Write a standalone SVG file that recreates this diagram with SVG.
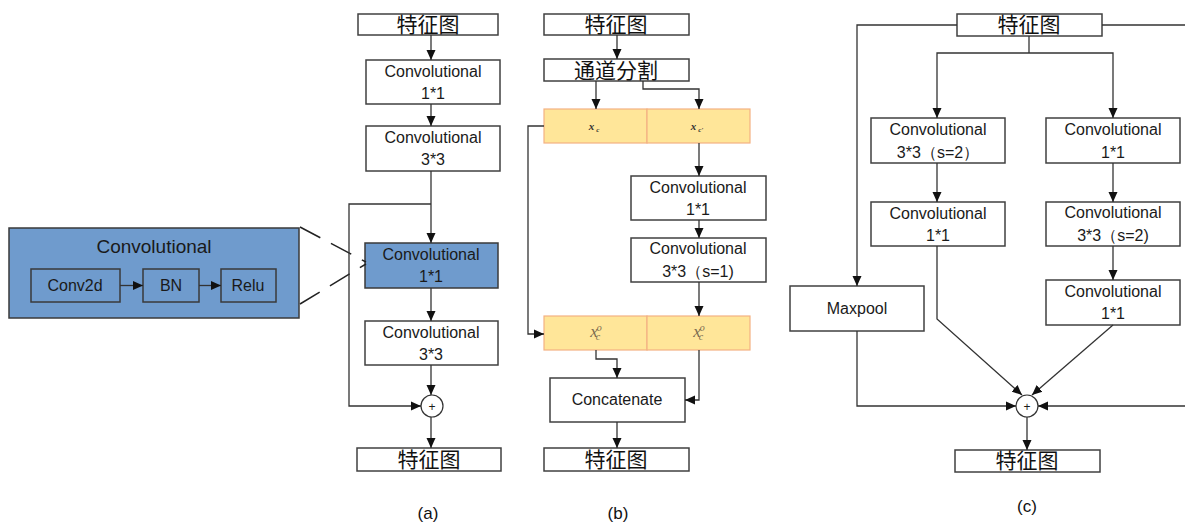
<svg xmlns="http://www.w3.org/2000/svg" width="1185" height="522" viewBox="0 0 1185 522">
<defs>
<marker id="ah" markerUnits="userSpaceOnUse" markerWidth="10" markerHeight="10" refX="10" refY="5" orient="auto">
<path d="M0,0.5 L10,5 L0,9.5 z" fill="#111"/>
</marker>
<style>
.box{fill:#fff;stroke:#404040;stroke-width:1.5}
.blue{fill:#6f9bcd;stroke:#3a3a3a;stroke-width:1.5}
.yel{fill:#ffe699;stroke:#f4b183;stroke-width:1.2}
.t{font-family:"Liberation Sans",Arial,sans-serif;font-size:16px;fill:#1a1a1a;text-anchor:middle}
.cn{font-family:"Noto Sans CJK SC",sans-serif;font-size:21px;fill:#111;text-anchor:middle}
.ln{fill:none;stroke:#333;stroke-width:1.3}
.ar{fill:none;stroke:#333;stroke-width:1.3;marker-end:url(#ah)}
.cap{font-family:"Liberation Sans",Arial,sans-serif;font-size:17px;fill:#111;text-anchor:middle}
.xs{font-family:"Liberation Serif",serif;font-style:italic;font-weight:bold;fill:#333;text-anchor:middle}
.xo{font-family:"Liberation Serif",serif;font-style:italic;fill:#7a6a50;text-anchor:middle}
</style>
</defs>
<rect width="1185" height="522" fill="#fff"/>

<!-- Left detail -->
<g id="conv-detail">
<rect class="blue" x="9" y="228" width="290" height="90"/>
<text class="t" x="154" y="253" style="font-size:19px">Convolutional</text>
<rect class="blue" x="31" y="269" width="89" height="33"/>
<text class="t" x="75" y="291">Conv2d</text>
<rect class="blue" x="143" y="269" width="56" height="33"/>
<text class="t" x="171" y="291">BN</text>
<rect class="blue" x="221" y="269" width="55" height="33"/>
<text class="t" x="248" y="291">Relu</text>
</g>

<!-- (a) nodes -->
<g id="a-in"><rect class="box" x="358" y="14" width="140" height="21"/><text class="cn" x="428" y="32">特征图</text></g>
<g id="a-c1"><rect class="box" x="366" y="60" width="134" height="44"/><text class="t" x="433" y="77">Convolutional</text><text class="t" x="433" y="99">1*1</text></g>
<g id="a-c2"><rect class="box" x="366" y="126" width="134" height="45"/><text class="t" x="433" y="143">Convolutional</text><text class="t" x="433" y="165">3*3</text></g>
<g id="a-c3"><rect class="blue" x="365" y="243" width="133" height="45"/><text class="t" x="431" y="260">Convolutional</text><text class="t" x="431" y="282">1*1</text></g>
<g id="a-c4"><rect class="box" x="365" y="321" width="133" height="44"/><text class="t" x="431" y="338">Convolutional</text><text class="t" x="431" y="360">3*3</text></g>
<g id="a-add"><circle cx="432" cy="406" r="11" fill="#fff" stroke="#333" stroke-width="1.2"/><text class="t" x="432" y="411" style="font-size:12px">+</text></g>
<g id="a-out"><rect class="box" x="357" y="448" width="144" height="23"/><text class="cn" x="429" y="467">特征图</text></g>

<!-- (b) nodes -->
<g id="b-in"><rect class="box" x="544" y="14" width="145" height="21"/><text class="cn" x="616" y="32">特征图</text></g>
<g id="b-split"><rect class="box" x="544" y="59" width="145" height="22"/><text class="cn" x="616" y="78">通道分割</text></g>
<g id="b-x1"><rect class="yel" x="544" y="109" width="103" height="34"/><text class="xs" x="594" y="130" style="font-size:11px">x<tspan dx="2" dy="2" font-size="7">c</tspan></text></g>
<g id="b-x2"><rect class="yel" x="647" y="109" width="103" height="34"/><text class="xs" x="697" y="130" style="font-size:11px">x<tspan dx="2" dy="2" font-size="7">c'</tspan></text></g>
<g id="b-c1"><rect class="box" x="631" y="176" width="135" height="44"/><text class="t" x="698" y="193">Convolutional</text><text class="t" x="698" y="215">1*1</text></g>
<g id="b-c2"><rect class="box" x="631" y="238" width="135" height="44"/><text class="t" x="698" y="254">Convolutional</text><text class="t" x="698" y="277">3*3（s=1)</text></g>
<g id="b-o1"><rect class="yel" x="544" y="316" width="103" height="34"/><text class="xo" x="596" y="337" style="font-size:17px">x<tspan dx="-1" dy="-6" font-size="10">o</tspan><tspan dx="-6" dy="9" font-size="10">c</tspan></text></g>
<g id="b-o2"><rect class="yel" x="647" y="316" width="103" height="34"/><text class="xo" x="699" y="337" style="font-size:17px">x<tspan dx="-1" dy="-6" font-size="10">o</tspan><tspan dx="-6" dy="9" font-size="10">c</tspan></text></g>
<g id="b-cat"><rect class="box" x="550" y="378" width="135" height="44"/><text class="t" x="617" y="405">Concatenate</text></g>
<g id="b-out"><rect class="box" x="544" y="448" width="145" height="23"/><text class="cn" x="616" y="467">特征图</text></g>

<!-- (c) nodes -->
<g id="c-in"><rect class="box" x="957" y="14" width="145" height="22"/><text class="cn" x="1029" y="32">特征图</text></g>
<g id="c-l1"><rect class="box" x="871" y="118" width="134" height="45"/><text class="t" x="938" y="135">Convolutional</text><text class="t" x="938" y="158">3*3（s=2）</text></g>
<g id="c-r1"><rect class="box" x="1046" y="118" width="134" height="45"/><text class="t" x="1113" y="135">Convolutional</text><text class="t" x="1113" y="158">1*1</text></g>
<g id="c-l2"><rect class="box" x="871" y="202" width="134" height="44"/><text class="t" x="938" y="219">Convolutional</text><text class="t" x="938" y="241">1*1</text></g>
<g id="c-r2"><rect class="box" x="1046" y="202" width="134" height="44"/><text class="t" x="1113" y="218">Convolutional</text><text class="t" x="1113" y="241">3*3（s=2)</text></g>
<g id="c-r3"><rect class="box" x="1046" y="280" width="134" height="45"/><text class="t" x="1113" y="297">Convolutional</text><text class="t" x="1113" y="319">1*1</text></g>
<g id="c-mp"><rect class="box" x="790" y="286" width="134" height="45"/><text class="t" x="857" y="314">Maxpool</text></g>
<g id="c-add"><circle cx="1027" cy="406" r="11" fill="#fff" stroke="#333" stroke-width="1.2"/><text class="t" x="1027" y="411" style="font-size:12px">+</text></g>
<g id="c-out"><rect class="box" x="955" y="450" width="145" height="22"/><text class="cn" x="1027" y="468">特征图</text></g>

<!-- captions -->
<text class="cap" x="428" y="519">(a)</text>
<text class="cap" x="618" y="519">(b)</text>
<text class="cap" x="1027" y="512">(c)</text>

<!-- connectors -->
<g id="connectors">
<line class="ar" x1="120" y1="285.5" x2="143" y2="285.5"/>
<line class="ar" x1="199" y1="285.5" x2="221" y2="285.5"/>
<line x1="300" y1="227" x2="366" y2="262" stroke="#222" stroke-width="1.5" stroke-dasharray="23,12"/>
<line x1="300" y1="304" x2="366" y2="264" stroke="#222" stroke-width="1.5" stroke-dasharray="23,12"/>

<line class="ar" x1="431" y1="35" x2="431" y2="60"/>
<line class="ar" x1="431" y1="104" x2="431" y2="126"/>
<line class="ar" x1="431" y1="171" x2="431" y2="243"/>
<path class="ar" d="M431,204 H349 V406 H421"/>
<line class="ar" x1="431" y1="288" x2="431" y2="321"/>
<line class="ar" x1="431" y1="365" x2="431" y2="395"/>
<line class="ar" x1="431" y1="417" x2="431" y2="448"/>

<line class="ar" x1="617" y1="35" x2="617" y2="59"/>
<line class="ar" x1="596" y1="81" x2="596" y2="109"/>
<path class="ar" d="M643,81 V89 H699 V109"/>
<path class="ar" d="M544,126 H528 V334 H544"/>
<line class="ar" x1="699" y1="143" x2="699" y2="176"/>
<line class="ar" x1="699" y1="220" x2="699" y2="238"/>
<line class="ar" x1="699" y1="282" x2="699" y2="316"/>
<path class="ar" d="M596,350 V359 H617 V378"/>
<path class="ar" d="M699,350 V400 H685"/>
<line class="ar" x1="617" y1="422" x2="617" y2="448"/>

<path class="ar" d="M957,25 H857 V286"/>
<path class="ar" d="M1102,25 H1187 V406 H1038"/>
<path class="ln" d="M1029,36 V53"/>
<path class="ar" d="M1029,53 H937 V118"/>
<path class="ar" d="M1029,53 H1113 V118"/>
<line class="ar" x1="937" y1="163" x2="937" y2="202"/>
<line class="ar" x1="1113" y1="163" x2="1113" y2="202"/>
<line class="ar" x1="1113" y1="246" x2="1113" y2="280"/>
<path class="ar" d="M937,246 V319 L1022,395"/>
<path class="ar" d="M1113,325 L1032,395"/>
<path class="ar" d="M857,331 V406 H1016"/>
<line class="ar" x1="1027" y1="417" x2="1027" y2="450"/>
</g>
</svg>
